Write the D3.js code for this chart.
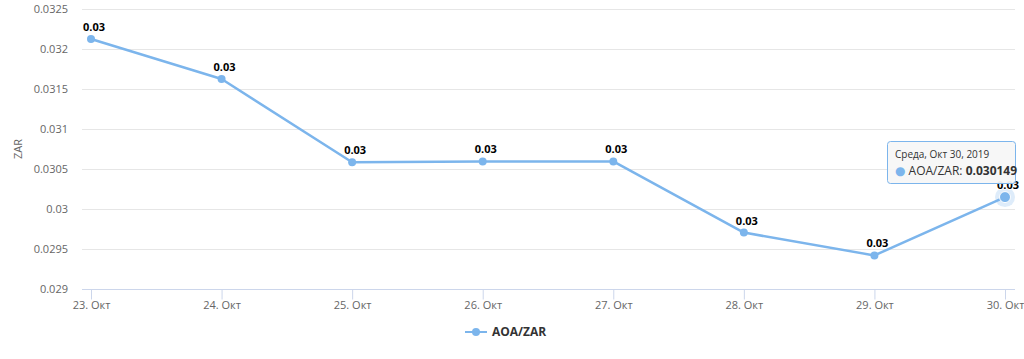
<!DOCTYPE html>
<html>
<head>
<meta charset="utf-8">
<script src="https://cdn.jsdelivr.net/npm/d3@7"></script>
<style>
body { margin:0; background:#fff; }
svg { font-family: "Open Sans", "DejaVu Sans", sans-serif; }
</style>
</head>
<body>
<script>
var days = ['2019-10-23','2019-10-24','2019-10-25','2019-10-26','2019-10-27','2019-10-28','2019-10-29','2019-10-30'];
var rates = [0.032125, 0.031625, 0.030585, 0.030595, 0.030595, 0.029705, 0.029420, 0.030149];
var yTicks = [0.029, 0.0295, 0.03, 0.0305, 0.031, 0.0315, 0.032, 0.0325];
var monthName = 'Окт';
var seriesName = 'AOA/ZAR';
var axisTitle = 'ZAR';

var width = 1024, height = 359;
var plot = {left:82, right:1015, top:9, bottom:289};

var parseDate = d3.timeParse("%Y-%m-%d");
var dates = days.map(parseDate);

var x = d3.scaleTime()
          .domain(d3.extent(dates))
          .range([91, 1005]);

var y = d3.scaleLinear()
          .domain([0.029, 0.0325])
          .range([plot.bottom, plot.top]);

var svg = d3.select("body").append("svg").attr("width", width).attr("height", height);

// gridlines
svg.append("g").selectAll("line").data(yTicks).enter().append("line")
    .attr("x1", plot.left).attr("x2", plot.right)
    .attr("y1", function(d){ return Math.round(y(d)) + 0.5; })
    .attr("y2", function(d){ return Math.round(y(d)) + 0.5; })
    .attr("stroke", "#e6e6e6");

// y labels
svg.append("g").selectAll("text").data(yTicks).enter().append("text")
    .attr("x", 68).attr("y", function(d){ return y(d) + 4; })
    .attr("text-anchor", "end")
    .attr("font-size", 11).attr("fill", "#666")
    .text(function(d){ return String(+d.toFixed(4)); });

svg.append("text")
    .attr("transform", "translate(22,149) rotate(-90)")
    .attr("text-anchor", "middle")
    .attr("font-size", 11).attr("fill", "#666")
    .text(axisTitle);

// x axis
var xAxis = d3.axisBottom(x)
    .tickValues(dates)
    .tickSize(10)
    .tickPadding(2)
    .tickFormat(function(d){ return d.getDate() + '. ' + monthName; });

var xg = svg.append("g")
    .attr("transform", "translate(0," + (plot.bottom + 0.5) + ")")
    .call(xAxis);
xg.select(".domain").attr("d", "M" + plot.left + ",0H" + plot.right).attr("stroke", "#ccd6eb");
xg.selectAll(".tick line").attr("stroke", "#ccd6eb");
xg.selectAll(".tick text").attr("font-size", 11).attr("fill", "#666").attr("font-family", "Open Sans, DejaVu Sans, sans-serif");

// line
var line = d3.line()
    .x(function(d, i){ return x(dates[i]); })
    .y(function(d){ return y(d); });

svg.append("path")
    .attr("d", line(rates))
    .attr("fill", "none")
    .attr("stroke", "#7cb5ec")
    .attr("stroke-width", 2.5)
    .attr("stroke-linejoin", "round");

// halo on hovered (last) point
var last = rates.length - 1;
svg.append("circle")
    .attr("cx", x(dates[last])).attr("cy", y(rates[last]))
    .attr("r", 10).attr("fill", "#7cb5ec").attr("fill-opacity", 0.25);

svg.append("g").selectAll("circle").data(rates).enter().append("circle")
    .attr("cx", function(d, i){ return x(dates[i]); })
    .attr("cy", function(d){ return y(d); })
    .attr("r", function(d, i){ return i === last ? 5.5 : 4; })
    .attr("fill", "#7cb5ec")
    .attr("stroke", function(d, i){ return i === last ? "#fff" : "none"; })
    .attr("stroke-width", 1);

// data labels
svg.append("g").selectAll("text").data(rates).enter().append("text")
    .attr("x", function(d, i){ return x(dates[i]) + 3; })
    .attr("y", function(d){ return y(d) - 8; })
    .attr("text-anchor", "middle")
    .attr("font-size", 11).attr("font-weight", "bold").attr("fill", "#000")
    .attr("stroke", "#fff").attr("stroke-width", 2).attr("paint-order", "stroke")
    .text(function(d){ return d.toFixed(2); });

// tooltip
var tip = svg.append("g").attr("transform", "translate(887,141)");
tip.append("rect")
    .attr("x", 1).attr("y", 1).attr("width", 128).attr("height", 42)
    .attr("rx", 3).attr("fill", "#000").attr("fill-opacity", 0.06);
tip.append("rect")
    .attr("x", 0.5).attr("y", 0.5).attr("width", 128).attr("height", 42)
    .attr("rx", 3).attr("fill", "#f7f7f7").attr("fill-opacity", 0.95)
    .attr("stroke", "#7cb5ec");
tip.append("text")
    .attr("x", 8).attr("y", 17)
    .attr("font-size", 10).attr("fill", "#333")
    .text("Среда, " + monthName + " " + dates[last].getDate() + ", " + dates[last].getFullYear());
var t2 = tip.append("text").attr("x", 8).attr("y", 34).attr("font-size", 12).attr("fill", "#333");
t2.append("tspan").attr("fill", "#7cb5ec").text("● ");
t2.append("tspan").text(seriesName + ": ");
t2.append("tspan").attr("font-weight", "bold").text(rates[last].toFixed(6));

// legend
var lg = svg.append("g").attr("transform", "translate(0,332)");
lg.append("line").attr("x1", 465).attr("x2", 487).attr("y1", 0).attr("y2", 0)
    .attr("stroke", "#7cb5ec").attr("stroke-width", 2);
lg.append("circle").attr("cx", 476).attr("cy", 0).attr("r", 4).attr("fill", "#7cb5ec");
lg.append("text").attr("x", 492).attr("y", 4)
    .attr("font-size", 12).attr("font-weight", "bold").attr("fill", "#333")
    .text(seriesName);
</script>
</body>
</html>
